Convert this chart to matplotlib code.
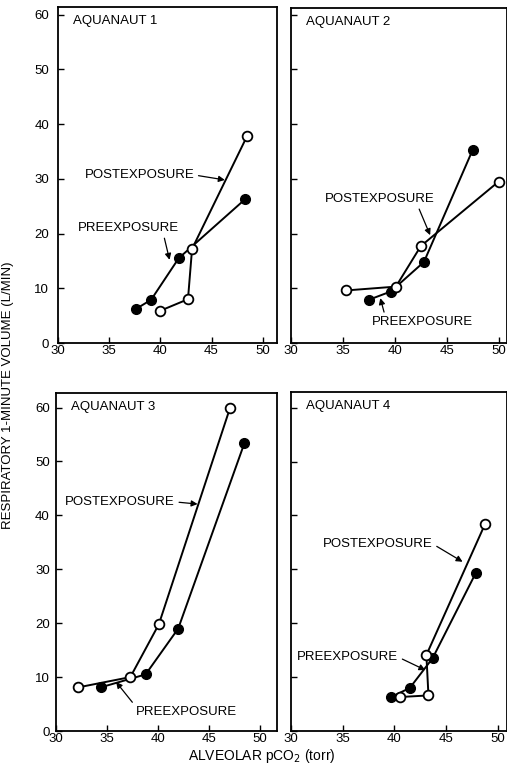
import matplotlib
matplotlib.use("Agg")
import matplotlib.pyplot as plt

plt.rcParams['font.family'] = ['Liberation Sans', 'DejaVu Sans']

W, H = 507, 774

# Data: (alveolar pCO2, respiratory minute volume)
pre1_x = [37.6, 39.1, 41.8, 48.3]
pre1_y = [6.2, 7.9, 15.5, 26.3]
post1_x = [40.0, 42.7, 43.1, 48.5]
post1_y = [5.9, 8.0, 17.2, 37.9]

pre2_x = [37.5, 39.6, 42.8, 47.5]
pre2_y = [7.9, 9.4, 14.8, 35.3]
post2_x = [35.3, 40.1, 42.5, 50.0]
post2_y = [9.6, 10.3, 17.7, 29.5]

pre3_x = [34.4, 38.8, 42.0, 48.5]
pre3_y = [8.1, 10.5, 19.0, 53.4]
post3_x = [32.2, 37.3, 40.1, 47.1]
post3_y = [8.1, 10.0, 19.8, 60.0]

pre4_x = [39.7, 41.5, 43.7, 47.9]
pre4_y = [6.3, 8.0, 13.5, 29.4]
post4_x = [40.5, 43.3, 43.1, 48.8]
post4_y = [6.3, 6.6, 14.1, 38.5]

titles = ["AQUANAUT 1", "AQUANAUT 2", "AQUANAUT 3", "AQUANAUT 4"]
x_ticks = [30, 35, 40, 45, 50]
y_ticks = [0, 10, 20, 30, 40, 50, 60]

# annotation specs: text position, arrow tip, point on the text box where arrow starts
post_text = [(32.6, 30.7), (33.3, 26.3), (30.9, 42.5), (33.1, 34.7)]
post_tip = [(46.3, 29.8), (43.4, 19.7), (43.9, 42.1), (46.6, 31.4)]
post_rel = [(1.0, 0.5), (0.84, 0.0), (1.0, 0.5), (1.0, 0.5)]
pre_text = [(31.9, 21.0), (37.8, 3.8), (37.8, 3.5), (30.6, 13.7)]
pre_tip = [(40.9, 15.2), (38.6, 8.2), (35.9, 9.1), (43.0, 11.3)]
pre_rel = [(0.85, 0.0), (0.13, 1.0), (0.0, 1.0), (1.0, 0.5)]

fig = plt.figure(figsize=(W / 100, H / 100), dpi=100)

def px_axes(l, r, t, b):
    return fig.add_axes([l / W, 1 - b / H, (r - l) / W, (b - t) / H])

boxes = [(58, 277, 7, 343), (291, 507, 8, 343), (56, 277, 393, 731), (291, 507, 392, 731)]
xl = [(30, 51.4), (30, 50.8), (30, 51.7), (30, 50.9)]
yl = [(0, 61.4), (0, 61.2), (0, 62.7), (0, 62.9)]
ypads = [6.5, 6.5, 4.5, 4.5]

data = [(pre1_x, pre1_y, post1_x, post1_y), (pre2_x, pre2_y, post2_x, post2_y),
        (pre3_x, pre3_y, post3_x, post3_y), (pre4_x, pre4_y, post4_x, post4_y)]

fs = 9.5
arrow_kw = dict(arrowstyle='-|>', color='black', lw=0.9, mutation_scale=9, shrinkA=1, shrinkB=0)
for i, (box, d) in enumerate(zip(boxes, data)):
    ax = px_axes(*box)
    px, py, qx, qy = d
    ax.plot(px, py, color='black', lw=1.4, marker='o', ms=7, mfc='black', mec='black', zorder=3)
    ax.plot(qx, qy, color='black', lw=1.4, marker='o', ms=7, mfc='white', mec='black', mew=1.3, zorder=4)
    ax.set_xlim(*xl[i])
    ax.set_ylim(*yl[i])
    ax.set_xticks(x_ticks)
    ax.set_yticks(y_ticks)
    ax.tick_params(direction='in', length=4, width=1, labelsize=fs)
    ax.tick_params(axis='x', pad=1.5)
    ax.tick_params(axis='y', pad=ypads[i])
    if i in (1, 3):
        ax.set_yticklabels([])
    for s in ax.spines.values():
        s.set_linewidth(1.3)
    ax.text(0.07, 0.975, titles[i], transform=ax.transAxes, ha='left', va='top', fontsize=fs)
    ax.annotate("POSTEXPOSURE", xy=post_tip[i], xytext=post_text[i], fontsize=fs,
                ha='left', va='center', textcoords='data',
                arrowprops=dict(relpos=post_rel[i], **arrow_kw))
    ax.annotate("PREEXPOSURE", xy=pre_tip[i], xytext=pre_text[i], fontsize=fs,
                ha='left', va='center', textcoords='data',
                arrowprops=dict(relpos=pre_rel[i], **arrow_kw))

fig.text(8 / W, 1 - 395 / H, "RESPIRATORY 1-MINUTE VOLUME (L/MIN)", rotation=90,
         ha='center', va='center', fontsize=fs)
fig.text(262 / W, 1 - 756 / H, "ALVEOLAR pCO$_2$ (torr)", ha='center', va='center', fontsize=10)

fig.savefig("out.png", dpi=100)
